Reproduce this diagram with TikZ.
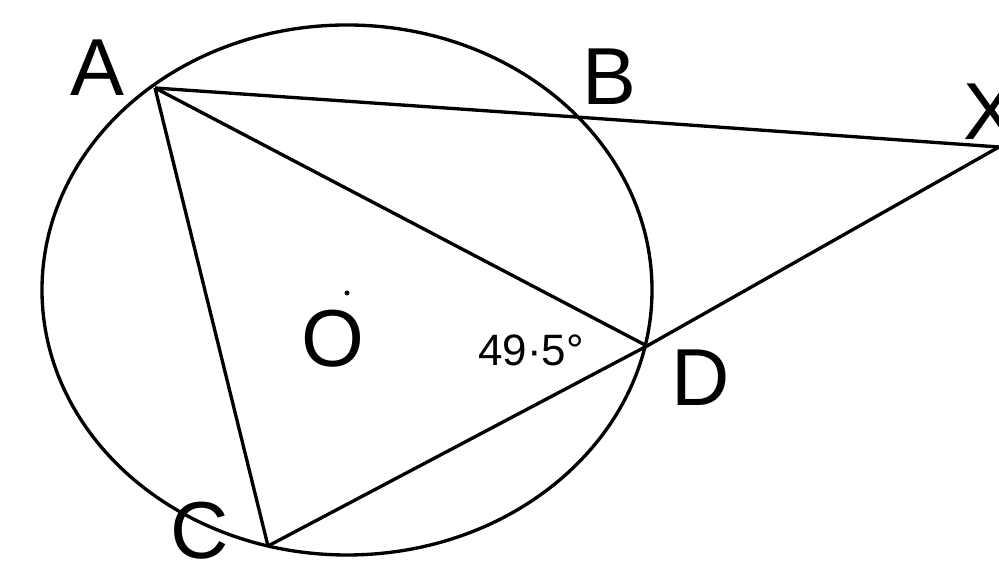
\documentclass[tikz,border=0pt]{standalone}
\usepackage{fontspec}
\setmainfont{Liberation Sans}
\usetikzlibrary{positioning}
\tikzset{
  ptlabel/.style={font=\fontsize{46}{46}\selectfont, inner sep=0pt},
  anglabel/.style={font=\fontsize{25}{25}\selectfont, inner sep=0pt},
}

\begin{document}
\begin{tikzpicture}[line width=1.9pt]

% Frame
\useasboundingbox (0,0) rectangle (19.98,11.3);

% Circle with centre O
\coordinate (O) at (6.94,5.5);
\draw (O) ellipse (6.1cm and 5.3cm);
\fill (6.94,5.44) circle (0.05);

% Points on the circle, X outside
\coordinate (A) at (3.1,9.54);
\coordinate (B) at (11.52,8.96);
\coordinate (D) at (12.94,4.38);
\coordinate (C) at (5.36,0.38);
\coordinate (X) at (19.98,8.36);

% Chords and secants
\draw (A) -- (B) -- (X);
\draw (A) -- (D);
\draw (A) -- (C);
\draw (C) -- (D) -- (X);

% Labels
\node[ptlabel] (lA) at (1.94,9.94) {A};
\node[ptlabel] (lB) at (12.18,9.76) {B};
\node[ptlabel] (lX) at (19.8,9.06) {X};
\node[ptlabel] (lD) at (14.02,3.74) {D};
\node[ptlabel] (lC) at (4.0,0.68) {C};
\node[ptlabel] (lO) at (6.66,4.52) {O};
\node[anglabel] (ang) at (10.62,4.3) {49·5°};

\end{tikzpicture}
\end{document}
